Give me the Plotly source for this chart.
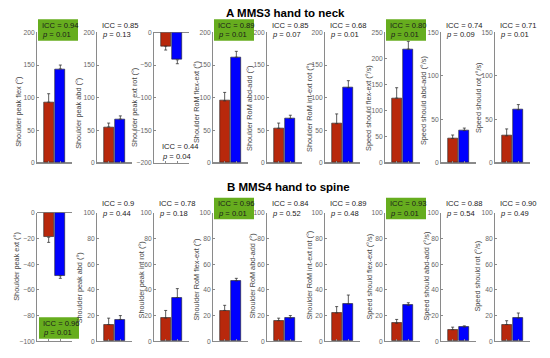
import plotly.graph_objects as go

# ---------------- data ----------------
labels_a = ["Shoulder peak flex (°)", "Shoulder peak abd (°)", "Shoulder peak ext rot (°)",
            "Shoulder RoM flex-ext (°)", "Shoulder RoM abd-add (°)", "Shoulder RoM int-ext rot (°)",
            "Speed should flex-ext (°/s)", "Speed should abd-add (°/s)", "Speed should rot (°/s)"]
labels_b = ["Shoulder peak ext (°)", "Shoulder peak abd (°)", "Shoulder peak int rot (°)",
            "Shoulder RoM flex-ext (°)", "Shoulder RoM abd-add (°)", "Shoulder RoM int-ext rot (°)",
            "Speed should flex-ext (°/s)", "Speed should abd-add (°/s)", "Speed should rot (°/s)"]

red_a = [93, 55, -21, 95, 53, 60, 124, 28, 31]
red_a_err = [13, 6, 6, 13, 8, 15, 20, 4, 8]
blue_a = [144, 67, -42, 162, 68, 115, 218, 37, 61]
blue_a_err = [6, 5, 6, 9, 5, 11, 15, 3, 6]

red_b = [-19, 13, 18, 24, 16, 22, 14, 9, 13]
red_b_err = [4, 5, 6, 4, 2, 5, 3, 2, 3]
blue_b = [-49, 17, 34, 47, 18, 29, 28, 11, 18]
blue_b_err = [2, 3, 7, 2, 2, 7, 2, 1, 4]

icc_a = ["0.94", "0.85", "0.44", "0.89", "0.85", "0.68", "0.80", "0.74", "0.71"]
p_a = ["0.01", "0.13", "0.04", "0.01", "0.07", "0.01", "0.01", "0.09", "0.01"]
icc_b = ["0.96", "0.9", "0.78", "0.96", "0.84", "0.89", "0.93", "0.88", "0.90"]
p_b = ["0.01", "0.44", "0.18", "0.01", "0.52", "0.48", "0.01", "0.54", "0.49"]
sig_a = [True, False, False, True, False, False, True, False, False]
sig_b = [True, False, False, True, False, False, True, False, False]

yrange_a = [[0, 200], [0, 200], [-200, 0], [0, 200], [0, 200], [0, 200], [0, 250], [0, 150], [0, 150]]
dtick_a = [50] * 9
yrange_b = [[-100, 0]] + [[0, 100]] * 8
dtick_b = [20] * 9

titles = ["A MMS3 hand to neck", "B MMS4 hand to spine"]
bar_positions = [1, 2]

# ---------------- layout geometry (pixels) ----------------
W, H = 550, 358
ax_left = [37, 97, 154, 213, 267, 325, 385, 441, 495]
ax_w = 35
row_top = [29, 213]
row_bot = [162, 344]
lab_cy = [[110, 112, 106, 100, 107, 106, 106, 99, 96],
          [268, 290, 282, 281, 278, 277, 278, 278, 278]]
lab_dx = [[-18, -18, -19, -17, -17, -15, -16, -18, -17],
          [-20, -18, -13, -16, -14, -15, -15, -14, -17]]

RED = "#b8280c"
BLUE = "#0000ff"
GREEN = "#66ad1e"
AXC = "#8a8a8a"
FONT = "Liberation Sans, Arial, sans-serif"

def px(x):
    return x / W

def py(y):
    return 1 - y / H

fig = go.Figure()
layout = dict(width=W, height=H, margin=dict(l=0, r=0, t=0, b=0, pad=0),
              paper_bgcolor="white", plot_bgcolor="white", showlegend=False,
              font=dict(family=FONT), bargap=0)
annotations = []
shapes = []

rows = [
    (red_a, red_a_err, blue_a, blue_a_err, icc_a, p_a, sig_a, yrange_a, dtick_a, labels_a),
    (red_b, red_b_err, blue_b, blue_b_err, icc_b, p_b, sig_b, yrange_b, dtick_b, labels_b),
]

for r, (rv, re, bv, be, icc, pv, sig, yr, dt, labs) in enumerate(rows):
    for c in range(9):
        k = r * 9 + c + 1
        xa = "x" if k == 1 else f"x{k}"
        ya = "y" if k == 1 else f"y{k}"
        neg = yr[c][1] <= 0
        vals = [rv[c], bv[c]]
        errs = [re[c], be[c]]
        fig.add_trace(go.Bar(
            x=bar_positions, y=vals, width=0.85, xaxis=xa, yaxis=ya,
            marker=dict(color=[RED, BLUE], line=dict(color="#222222", width=0.6)),
            error_y=dict(type="data", symmetric=False,
                         array=[0, 0] if neg else errs,
                         arrayminus=errs if neg else [0, 0],
                         color="#333333", thickness=0.8, width=1.5),
            hoverinfo="skip"))
        xname = "xaxis" if k == 1 else f"xaxis{k}"
        yname = "yaxis" if k == 1 else f"yaxis{k}"
        layout[xname] = dict(domain=[px(ax_left[c]), px(ax_left[c] + ax_w)], anchor=ya,
                             range=[0, 3], tickvals=bar_positions, ticks="inside", ticklen=2,
                             tickcolor=AXC, showticklabels=False, showline=True,
                             linecolor=AXC, linewidth=0.8, showgrid=False, zeroline=False)
        layout[yname] = dict(domain=[py(row_bot[r]), py(row_top[r])], anchor=xa,
                             range=yr[c], dtick=dt[c], tick0=0, ticks="inside", ticklen=2,
                             tickcolor=AXC, tickfont=dict(size=6.7, color="#666666", family=FONT),
                             showline=True, linecolor=AXC, linewidth=0.8, showgrid=False,
                             zeroline=True, zerolinecolor=AXC, zerolinewidth=0.8)
        # y label
        annotations.append(dict(text=labs[c], textangle=-90, xref="paper", yref="paper",
                                x=px(ax_left[c] + lab_dx[r][c]), y=py(lab_cy[r][c]),
                                xanchor="center", yanchor="middle", showarrow=False,
                                font=dict(size=7.3, color="#444444", family=FONT)))
        # ICC / p annotation
        if r == 0 and c == 2:
            ax_x, cy = ax_left[c] + 4, 150.5
        elif r == 1 and c == 0:
            ax_x, cy = ax_left[c] + 2, 330.5
        else:
            ax_x, cy = ax_left[c] + 1, (26.5 if r == 0 else 208.5)
        if sig[c]:
            shapes.append(dict(type="rect", xref="paper", yref="paper", layer="above",
                               x0=px(ax_x), x1=px(ax_x + 40), y0=py(cy + 11), y1=py(cy - 11),
                               fillcolor=GREEN, line=dict(width=0)))
        annotations.append(dict(text=f"ICC = {icc[c]}", xref="paper", yref="paper",
                                x=px(ax_x + 2), y=py(cy - 5), xanchor="left", yanchor="middle",
                                showarrow=False, font=dict(size=7.6, color="#1a1a1a", family=FONT)))
        annotations.append(dict(text=f"<i>p</i> = {pv[c]}", xref="paper", yref="paper",
                                x=px(ax_x + 2), y=py(cy + 5), xanchor="left", yanchor="middle",
                                showarrow=False, font=dict(size=7.6, color="#1a1a1a", family=FONT)))

annotations.append(dict(text=f"<b>{titles[0]}</b>", xref="paper", yref="paper",
                        x=px(285), y=py(9), xanchor="center", yanchor="middle", showarrow=False,
                        font=dict(size=11.5, color="black", family=FONT)))
annotations.append(dict(text=f"<b>{titles[1]}</b>", xref="paper", yref="paper",
                        x=px(288), y=py(187), xanchor="center", yanchor="middle", showarrow=False,
                        font=dict(size=11.5, color="black", family=FONT)))
layout["annotations"] = annotations
layout["shapes"] = shapes
fig.update_layout(**layout)
fig.write_html("out.html", config={"displayModeBar": False},
               post_script="document.body.style.margin='0';document.body.style.overflow='hidden';")
